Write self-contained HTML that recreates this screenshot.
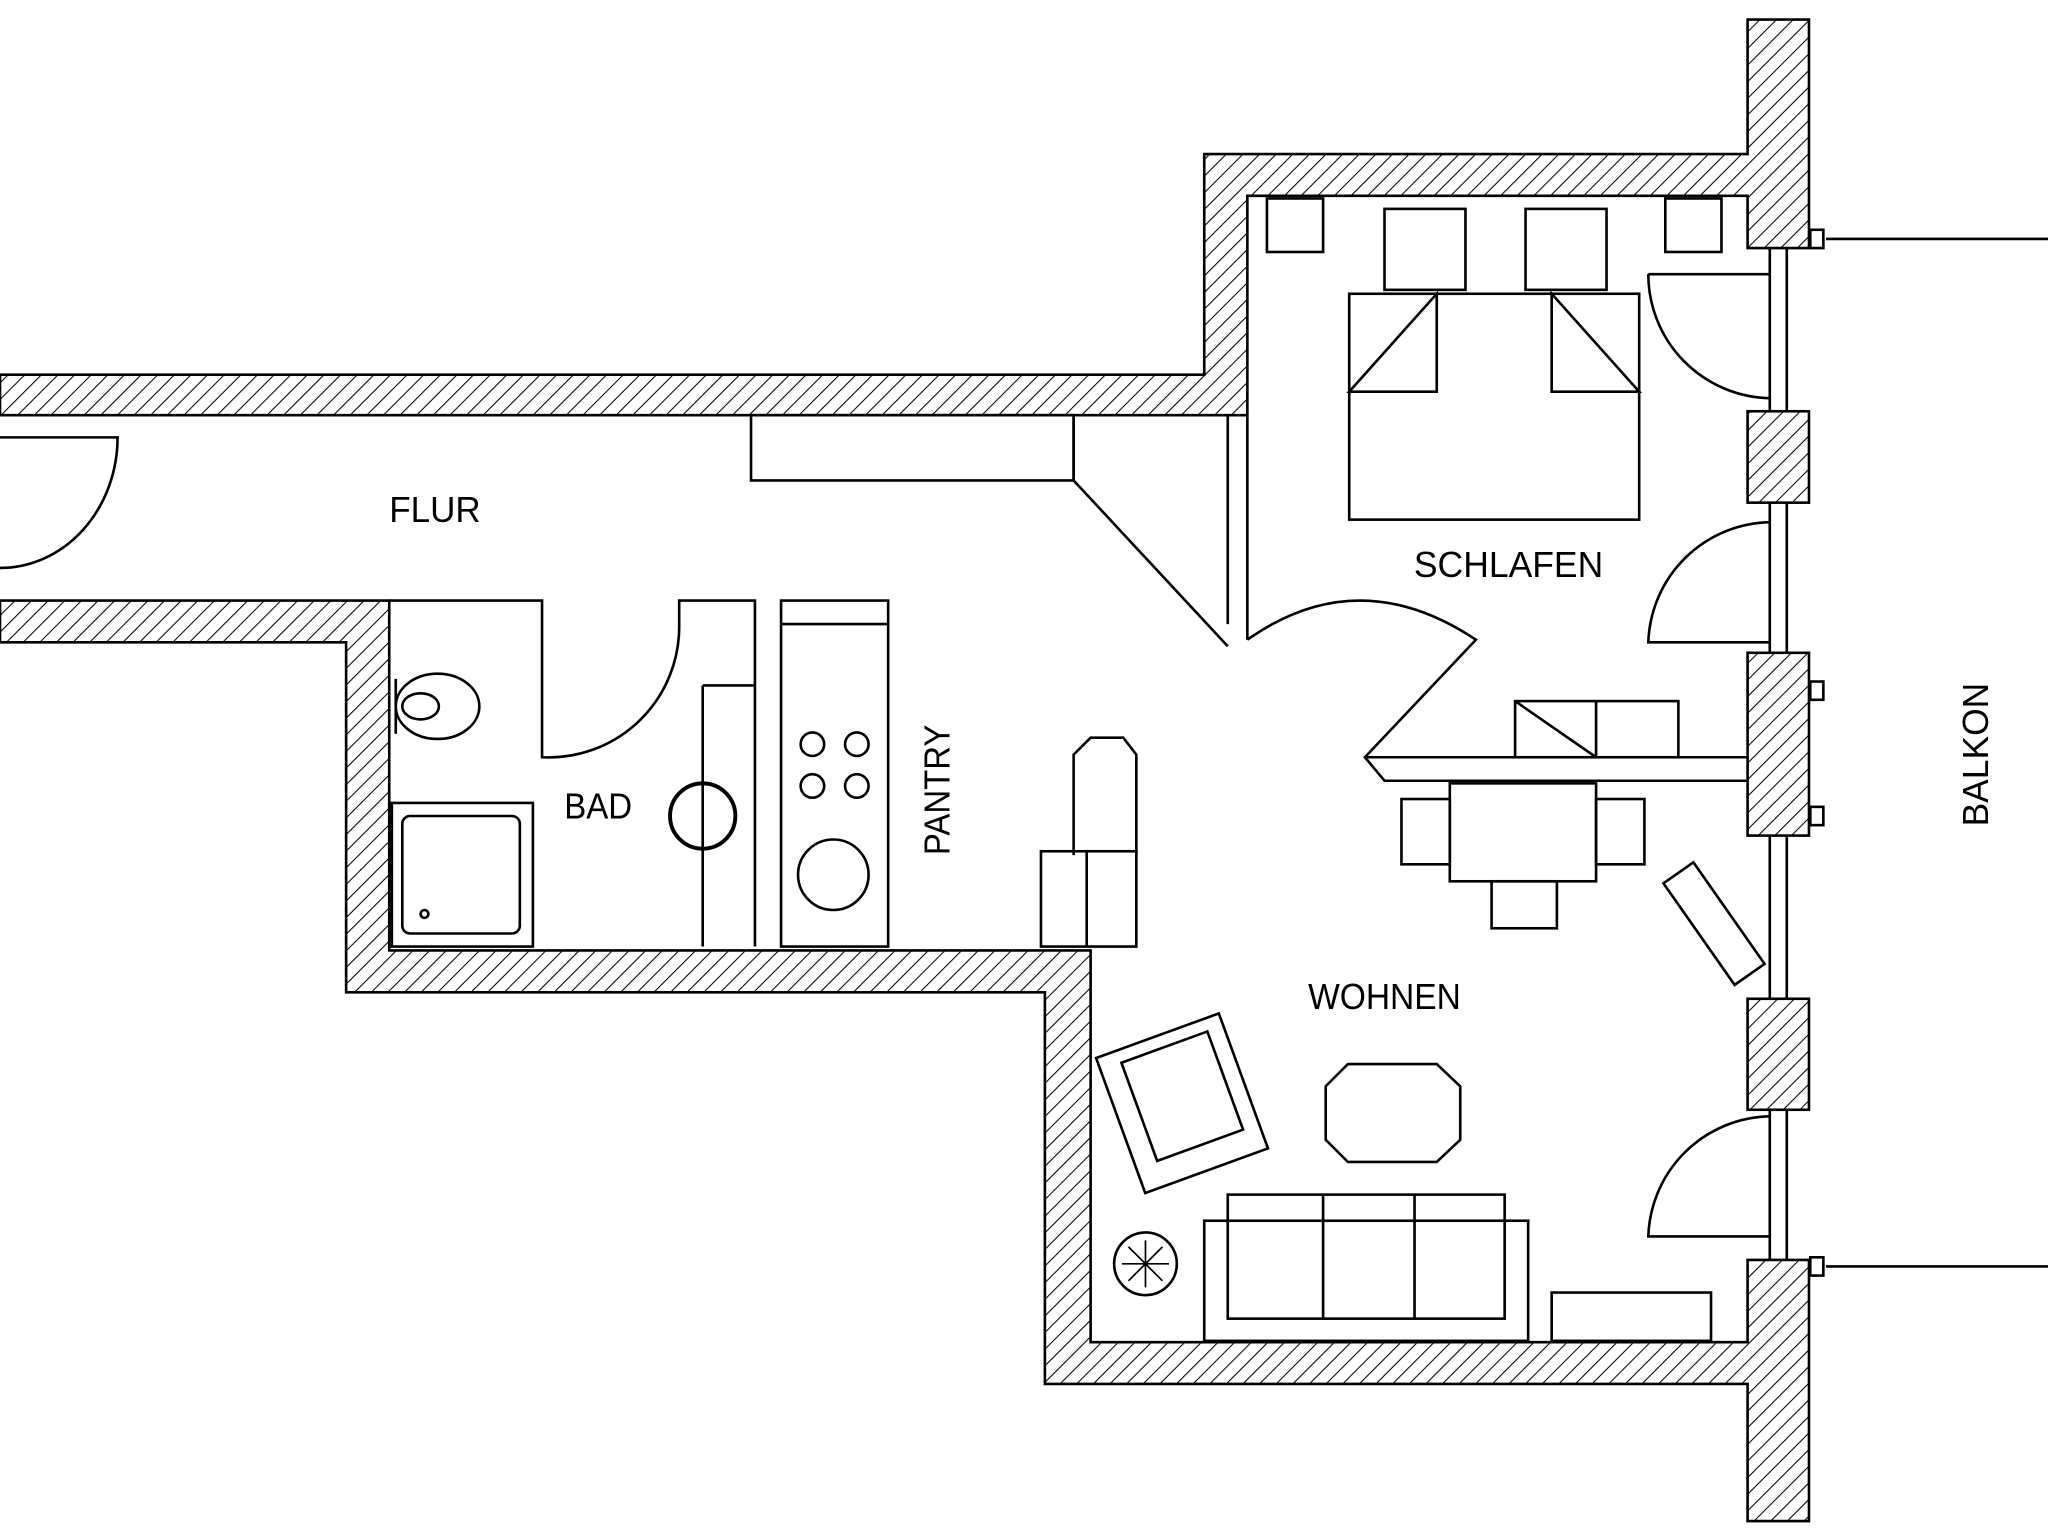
<!DOCTYPE html>
<html><head><meta charset="utf-8"><style>html,body{margin:0;padding:0;background:#fff}svg{display:block}</style></head>
<body>
<svg width="2048" height="1538" viewBox="0 0 1568 1178" preserveAspectRatio="none" xmlns="http://www.w3.org/2000/svg">
<defs>
<pattern id="h" patternUnits="userSpaceOnUse" width="9" height="9" patternTransform="rotate(45)">
<rect width="9" height="9" fill="#fff"/><line x1="0" y1="0" x2="0" y2="9" stroke="#000" stroke-width="1.6"/>
</pattern>
</defs>
<rect width="1568" height="1178" fill="#fff"/>
<g stroke="#000" stroke-width="2" fill="url(#h)">
<polygon points="0,287 922,287 922,118 1338,118 1338,15 1385,15 1385,190 1338,190 1338,150 955,150 955,318 0,318"/>
<polygon points="0,460 298,460 298,728 835,728 835,1028 1338,1028 1338,965 1385,965 1385,1165 1338,1165 1338,1060 800,1060 800,760 265,760 265,492 0,492"/>
<rect x="1338" y="315" width="47" height="70"/>
<rect x="1338" y="500" width="47" height="140"/>
<rect x="1338" y="765" width="47" height="85"/>
</g>
<g stroke="#000" stroke-width="2" fill="none">
<path d="M1355,190V315M1368,190V315M1355,385V500M1368,385V500M1355,640V765M1368,640V765M1355,850V965M1368,850V965"/>
<path d="M1398,183H1568M1398,970H1568"/>
<rect x="1386" y="176" width="10" height="14"/><rect x="1386" y="963" width="10" height="14"/>
<rect x="1386" y="522" width="10" height="14"/><rect x="1386" y="618" width="10" height="14"/>
<path d="M0,335 H90 A90,100 0 0 1 0,435"/>
<rect x="575" y="318" width="247" height="50"/>
<path d="M822,368 L940,495 M822,318V368"/>
<path d="M940,318V478 M955,318V490"/>
<path d="M955,490 Q1040,430 1130,490 L1045,580 L1060,598 H1338 M1045,580H1338"/>
<path d="M1355,210 H1262 M1262,210 A95,95 0 0 0 1355,305"/>
<path d="M1355,400 A95,95 0 0 0 1262,492 H1355"/>
<path d="M1355,855 A95,95 0 0 0 1262,947 H1355"/>
<rect x="1033" y="225" width="222" height="173"/>
<rect x="1060" y="160" width="62" height="62"/><rect x="1168" y="160" width="62" height="62"/>
<rect x="970" y="152" width="43" height="41"/><rect x="1275" y="152" width="43" height="41"/>
<path d="M1033,300 L1100,225 V300 Z M1255,300 L1188,225 V300 Z"/>
<rect x="1160" y="537" width="125" height="43"/><path d="M1222,537V580 M1160,537 L1222,580"/>
<rect x="1110" y="600" width="112" height="75"/>
<rect x="1073" y="612" width="37" height="50"/><rect x="1222" y="612" width="37" height="50"/>
<rect x="1142" y="675" width="50" height="36"/>
<rect x="1298" y="660" width="28" height="95" transform="rotate(-35 1312 707)"/>
<path d="M298,460 H415 V580 A100,100 0 0 0 520,480 V460 H578 V725 M520,460V480"/>
<rect x="300" y="615" width="108" height="110"/><rect x="308" y="625" width="90" height="90" rx="6"/>
<circle cx="325" cy="700" r="3"/>
<ellipse cx="335" cy="541" rx="32" ry="25"/><ellipse cx="322" cy="541" rx="14" ry="10"/><path d="M303,520V562"/>
<path d="M538,525H578 M538,525V725"/>
<circle cx="538" cy="625" r="25" stroke-width="3"/>
<rect x="598" y="460" width="82" height="265"/><path d="M598,478H680"/>
<circle cx="622" cy="570" r="9"/><circle cx="656" cy="570" r="9"/><circle cx="622" cy="602" r="9"/><circle cx="656" cy="602" r="9"/>
<circle cx="638" cy="670" r="27"/>
<path d="M822,655 V578 L835,565 H860 L870,578 V655"/>
<rect x="797" y="652" width="73" height="73"/><path d="M832,652V725"/>
<g transform="rotate(-20 905 845)">
<rect x="855" y="790" width="100" height="110"/><rect x="872" y="800" width="70" height="80"/>
</g>
<polygon points="1032,815 1100,815 1118,832 1118,873 1100,890 1032,890 1015,873 1015,832"/>
<rect x="922" y="935" width="248" height="92"/><rect x="940" y="915" width="212" height="95"/>
<path d="M1013,915V1010 M1083,915V1010"/>
<rect x="1188" y="990" width="122" height="37"/>
<circle cx="877" cy="968" r="24"/>
<path d="M877,950V986 M859,968H895 M864,955L890,981 M890,955L864,981" stroke-width="1.3"/>
</g>
<g font-family="'Liberation Sans',sans-serif" font-size="28" fill="#000" text-anchor="middle">
<text x="333" y="400" textLength="70" lengthAdjust="spacingAndGlyphs">FLUR</text>
<text x="1155" y="442" textLength="145" lengthAdjust="spacingAndGlyphs">SCHLAFEN</text>
<text x="458" y="627" textLength="52" lengthAdjust="spacingAndGlyphs">BAD</text>
<text x="1060" y="773" textLength="117" lengthAdjust="spacingAndGlyphs">WOHNEN</text>
<text transform="translate(727,605) rotate(-90)" textLength="100" lengthAdjust="spacingAndGlyphs">PANTRY</text>
<text transform="translate(1522,578) rotate(-90)" textLength="110" lengthAdjust="spacingAndGlyphs">BALKON</text>
</g>
</svg>
</body></html>
